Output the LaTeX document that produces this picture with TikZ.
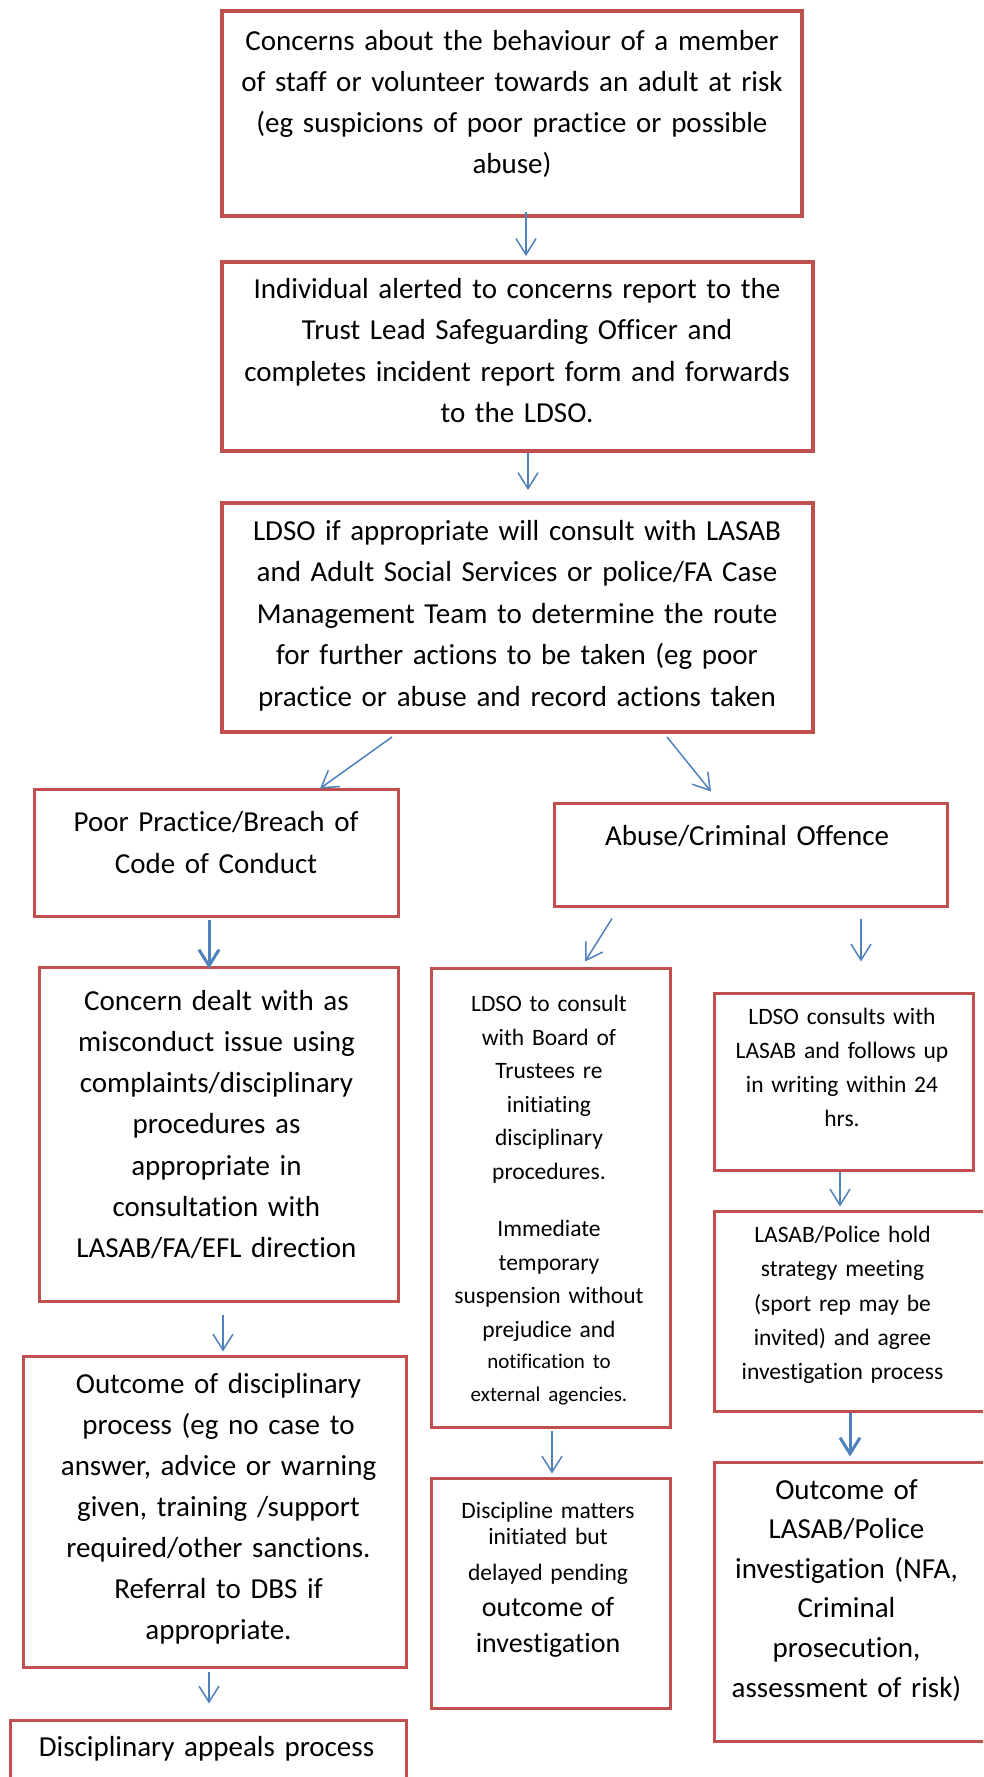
\documentclass[tikz,border=0pt]{standalone}
\usepackage{fontspec}
\setmainfont{Carlito}[Ligatures={NoCommon,NoContextual}, Contextuals=NoAlternate]
\usetikzlibrary{arrows.meta}
\definecolor{boxred}{HTML}{C0504D}
\definecolor{arrowblue}{HTML}{4F81BD}
\tikzset{
  redbox/.style={draw=boxred, line width=3pt, inner sep=0pt},
  heavybox/.style={redbox, line width=4pt},
  boxtext/.style={anchor=north, align=center, inner sep=0pt},
  bigtext/.style={font=\fontsize{29}{41}\selectfont},
  smalltext/.style={font=\fontsize{23.5}{34}\selectfont},
  flowarrow/.style={arrowblue, line width=1.5pt, -{Straight Barb[length=16pt,width=20pt]}},
  heavyarrow/.style={flowarrow, line width=3pt},
}
\begin{document}
\begin{tikzpicture}[x=1pt,y=-1pt]
    \useasboundingbox (0,0) rectangle (983,1777);
    \clip (0,0) rectangle (983,1777);
    \fill[white] (0,0) rectangle (983,1777);

    % boxes
    \node[heavybox, minimum width=580pt, minimum height=205pt] (concerns) at (512,113.5) {};
    \node[heavybox, minimum width=591pt, minimum height=189pt] (alert) at (517.5,356.5) {};
    \node[heavybox, minimum width=591pt, minimum height=229pt] (route) at (517.5,617.5) {};
    \node[redbox, minimum width=364pt, minimum height=127pt] (poor) at (216,852.5) {};
    \node[redbox, minimum width=393pt, minimum height=103pt] (abuse) at (750.5,854.5) {};
    \node[redbox, minimum width=359pt, minimum height=334pt] (dealt) at (218.5,1134) {};
    \node[redbox, minimum width=383pt, minimum height=311pt] (outcome) at (214.5,1511.5) {};
    \node[redbox, minimum width=396pt, minimum height=100pt] (appeals) at (208,1770) {};
    \node[redbox, minimum width=239pt, minimum height=459pt] (board) at (550.5,1197.5) {};
    \node[redbox, minimum width=239pt, minimum height=230pt] (pending) at (550.5,1593) {};
    \node[redbox, minimum width=259pt, minimum height=177pt] (writing) at (843.5,1081.5) {};
    \node[redbox, minimum width=290pt, minimum height=200pt] (strategy) at (859,1311) {};
    \node[redbox, minimum width=290pt, minimum height=279pt] (police) at (859,1601.5) {};

    % texts
    \node[boxtext, bigtext, text width=570pt] (concernsText) at (512,30) {Concerns about the behaviour of a member\\ of staff or volunteer towards an adult at risk\\ (eg suspicions of poor practice or possible\\ abuse)};
    \node[boxtext, font=\fontsize{29}{41.5}\selectfont, text width=580pt] (alertText) at (517,278) {Individual alerted to concerns report to the\\ Trust Lead Safeguarding Officer and\\ completes incident report form and forwards\\ to the LDSO.};
    \node[boxtext, font=\fontsize{29}{41.5}\selectfont, text width=580pt] (routeText) at (517,520) {LDSO if appropriate will consult with LASAB\\ and Adult Social Services or police/FA Case\\ Management Team to determine the route\\ for further actions to be taken (eg poor\\ practice or abuse and record actions taken};
    \node[boxtext, font=\fontsize{29}{42}\selectfont, text width=350pt] (poorText) at (216,811) {Poor Practice/Breach of\\ Code of Conduct};
    \node[boxtext, bigtext, text width=380pt] (abuseText) at (747,825) {Abuse/Criminal Offence};
    \node[boxtext, font=\fontsize{29}{41.2}\selectfont, text width=350pt] (dealtText) at (216.5,990) {Concern dealt with as\\ misconduct issue using\\ complaints/disciplinary\\ procedures as\\ appropriate in\\ consultation with\\ LASAB/FA/EFL direction};
    \node[boxtext, bigtext, text width=370pt] (outcomeText) at (218.5,1373) {Outcome of disciplinary\\ process (eg no case to\\ answer, advice or warning\\ given, training /support\\ required/other sanctions.\\ Referral to DBS if\\ appropriate.};
    \node[boxtext, bigtext, text width=390pt] (appealsText) at (206.5,1736) {Disciplinary appeals process};
    \node[boxtext, font=\fontsize{23.5}{33.5}\selectfont, text width=232pt] (boardText) at (549,995) {LDSO to consult\\ with Board of\\ Trustees re\\ initiating\\ disciplinary\\ procedures.\\[24pt] Immediate\\ temporary\\ suspension without\\ prejudice and\\ {\fontsize{21}{31}\selectfont notification to\\ external agencies.}};
    \node[boxtext, font=\fontsize{23.5}{36}\selectfont, text width=232pt] (pendingText) at (548,1502) {Discipline matters\\[-10pt] initiated but\\ delayed pending\\ {\fontsize{28}{36}\selectfont outcome of\\ investigation}};
    \node[boxtext, smalltext, text width=250pt] (writingText) at (842,1008) {LDSO consults with\\ LASAB and follows up\\ in writing within 24\\ hrs.};
    \node[boxtext, font=\fontsize{23.5}{34.25}\selectfont, text width=250pt] (strategyText) at (842.5,1226) {LASAB/Police hold\\ strategy meeting\\ (sport rep may be\\ invited) and agree\\ investigation process};
    \node[boxtext, font=\fontsize{29}{39.6}\selectfont, text width=260pt] (policeText) at (846.5,1479) {Outcome of\\ LASAB/Police\\ investigation (NFA,\\ Criminal\\ prosecution,\\ assessment of risk)};

    % arrows
    \draw[flowarrow] ([xshift=14pt,yshift=6pt]concerns.south) -- ([xshift=8.5pt,yshift=4pt]alert.north);
    \draw[flowarrow] ([xshift=10.5pt]alert.south) -- ([xshift=10.5pt,yshift=11pt]route.north);
    \draw[flowarrow] ([xshift=-125.5pt,yshift=-3pt]route.south) -- ([xshift=104pt,yshift=-1pt]poor.north);
    \draw[flowarrow] ([xshift=149.5pt,yshift=-3pt]route.south) -- ([xshift=-39.5pt,yshift=10pt]abuse.north);
    \draw[heavyarrow] ([xshift=-7pt,yshift=-2pt]poor.south) -- ([xshift=-9.5pt,yshift=-3pt]dealt.north);
    \draw[flowarrow] ([xshift=4.5pt,yshift=-12pt]dealt.south) -- ([xshift=8.5pt,yshift=3pt]outcome.north);
    \draw[flowarrow] ([xshift=-5.5pt,yshift=-3pt]outcome.south) -- ([xshift=1pt,yshift=15pt]appeals.north);
    \draw[flowarrow] ([xshift=-138.5pt,yshift=-11pt]abuse.south) -- ([xshift=34.5pt,yshift=5pt]board.north);
    \draw[flowarrow] ([xshift=110.5pt,yshift=-11pt]abuse.south) -- ([xshift=17.5pt,yshift=30pt]writing.north);
    \draw[flowarrow] ([xshift=-3.5pt]writing.south) -- ([xshift=-19pt,yshift=3pt]strategy.north);
    \draw[heavyarrow] ([xshift=-9pt]strategy.south) -- ([xshift=-9pt,yshift=4pt]police.north);
    \draw[flowarrow] ([xshift=1.5pt,yshift=-2pt]board.south) -- ([xshift=1.5pt,yshift=3pt]pending.north);
\end{tikzpicture}
\end{document}
